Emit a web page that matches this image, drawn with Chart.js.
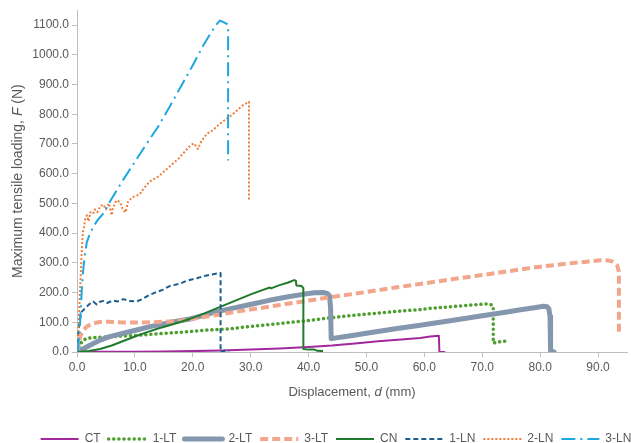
<!DOCTYPE html>
<html>
<head>
<meta charset="utf-8">
<script src="https://cdn.jsdelivr.net/npm/chart.js@4/dist/chart.umd.min.js"></script>
<style>
    html, body { margin: 0; padding: 0; background: #fff; overflow: hidden; }
    #wrap { width: 672px; height: 455px; }
</style>
</head>
<body>
<div id="wrap"><canvas id="chart" width="672" height="455"></canvas></div>
<script>
// Series (displacement in mm, load in N)
const ctX = [0, 5, 10, 15, 20, 25, 30, 35, 40, 44, 48, 52, 56, 59.3, 61, 62.5, 62.6, 63.6];
const ctY = [0, 0.5, 1, 2, 3, 5, 8, 12, 17, 22, 29, 36, 42, 47, 52, 55, 0, 0];

const lt1X = [0, 0.3, 0.6, 1.0, 1.6, 2.5, 4.5, 7, 10.3, 13, 16, 19, 21.8, 26.4, 29.9, 35, 40, 43.7, 48, 52, 56, 59.3, 61, 65, 68, 70.8, 71.7, 71.9, 71.9, 72.5, 74.6];
const lt1Y = [0, 15, 28, 38, 45, 48, 50, 53, 56, 60, 64, 68, 73, 78, 86, 96, 106, 115, 124, 131, 138, 143, 147, 153, 158, 162, 158, 150, 30, 33, 38];

const lt2X = [0, 1, 2.5, 4, 5.5, 8, 10.3, 13, 16, 19.5, 22, 24, 26.4, 29.9, 33, 36, 39, 41, 42.5, 43.2, 43.6, 43.8, 43.9, 47, 50, 55, 59.3, 61, 65, 70, 74, 76.6, 79, 80.6, 81.2, 81.5, 81.7, 81.8, 82.4];
const lt2Y = [0, 10, 25, 40, 51, 63, 74, 87, 99, 111, 124, 135, 145, 160, 173, 184, 194, 199, 200, 197, 190, 150, 45, 54, 63, 78, 90, 95, 107, 122, 134, 142, 149, 154, 152, 145, 120, 5, 0];

const lt3X = [0, 0.3, 0.6, 1, 1.6, 2.5, 3.9, 5.5, 7.4, 10, 13, 16, 18.5, 21, 24, 26.4, 30, 35, 40, 43.7, 50, 55, 61, 66, 70, 76.6, 80, 85, 88, 90.4, 91.8, 92.6, 93.3, 93.6, 93.6];
const lt3Y = [0, 30, 55, 70, 84, 95, 101, 102, 100, 99, 100, 103, 107, 115, 124, 132, 143, 158, 173, 184, 202, 217, 234, 248, 259, 278, 287, 298, 304, 309, 308, 304, 292, 270, 56];

const cnX = [0, 2, 4, 6, 8, 10, 12, 14, 16, 18, 20, 22, 24, 26, 28, 30, 32, 33.3, 33.5, 35, 36.5, 37.5, 37.8, 37.9, 38.8, 39.1, 39.1, 40, 41, 41.5, 42.5];
const cnY = [0, 3, 10, 22, 37, 52, 66, 79, 90, 102, 115, 130, 146, 162, 178, 194, 208, 217, 214, 225, 234, 242, 240, 224, 222, 215, 10, 8, 8, 4, 3];

const ln1X = [0, 0.2, 0.5, 0.8, 1.3, 1.8, 2.2, 2.8, 3.4, 3.9, 4.5, 5.2, 6.2, 7.0, 8.0, 9.0, 10.3, 11.3, 12.3, 13.5, 14.9, 16, 17.8, 19, 20.7, 22, 23, 24.8, 24.8, 25.5, 26.3];
const ln1Y = [0, 60, 110, 135, 145, 155, 162, 170, 160, 168, 172, 165, 173, 170, 178, 172, 170, 178, 190, 200, 210, 222, 230, 240, 248, 256, 260, 266, 0, 4, 4];

const ln2X = [0, 0.2, 0.5, 0.8, 1.0, 1.2, 1.4, 1.7, 2.0, 2.3, 2.8, 3.1, 3.5, 4.0, 4.5, 5.0, 5.5, 6.0, 6.2, 6.8, 7.4, 7.9, 8.4, 8.8, 9.5, 10.8, 11.5, 12.6, 14, 16, 17.5, 18.9, 19.6, 20.2, 20.9, 21.5, 22.5, 23.5, 24.5, 25.5, 26.4, 27.5, 28.5, 29.7, 29.7];
const ln2Y = [0, 60, 195, 330, 400, 420, 445, 460, 440, 470, 465, 480, 470, 490, 496, 480, 500, 460, 485, 510, 505, 480, 470, 505, 520, 530, 550, 574, 590, 624, 650, 680, 695, 702, 683, 710, 735, 747, 765, 780, 792, 810, 828, 842, 510];

const ln3X = [0, 0.2, 0.4, 0.6, 0.8, 1.0, 1.3, 1.7, 2.2, 2.9, 3.6, 4.5, 5.2, 5.8, 6.5, 8, 10, 12, 14, 16, 18, 20, 21.8, 23, 24, 24.7, 25.3, 25.8, 26.1, 26.1];
const ln3Y = [0, 15, 60, 120, 200, 260, 320, 370, 396, 424, 445, 465, 490, 510, 532, 580, 640, 700, 758, 825, 895, 965, 1031, 1070, 1100, 1115, 1110, 1105, 1100, 644];

const seriesNames = ['CT', '1-LT', '2-LT', '3-LT', 'CN', '1-LN', '2-LN', '3-LN'];
const yTicks = [0, 100, 200, 300, 400, 500, 600, 700, 800, 900, 1000, 1100];
const xTicks = [0, 10, 20, 30, 40, 50, 60, 70, 80, 90];

const xTitleParts = [['Displacement, ', false], ['d', true], [' (mm)', false]];
const yTitleParts = [['Maximum tensile loading, ', false], ['F', true], [' (N)', false]];

const textColor = '#595959';
const axisColor = '#BFBFBF';
const fontFamily = '"Liberation Sans", Arial, sans-serif';

function toPoints(xs, ys) {
    return xs.map((x, i) => ({ x: x, y: ys[i] }));
}

const styles = [
    { color: '#A2299B', width: 2, dash: [] },
    { color: '#4E9F2F', width: 3.5, dash: [0.1, 5], cap: 'round' },
    { color: '#8497AE', width: 5, dash: [], cap: 'round' },
    { color: '#F2A68C', width: 4, dash: [8, 4] },
    { color: '#1F7A2B', width: 2, dash: [] },
    { color: '#1D5E8C', width: 2, dash: [5, 3] },
    { color: '#EF7D3C', width: 2, dash: [2, 2] },
    { color: '#1EA7DF', width: 2, dash: [14, 5, 2, 5] }
];

const allX = [ctX, lt1X, lt2X, lt3X, cnX, ln1X, ln2X, ln3X];
const allY = [ctY, lt1Y, lt2Y, lt3Y, cnY, ln1Y, ln2Y, ln3Y];

const datasets = seriesNames.map((name, i) => ({
    label: name,
    data: toPoints(allX[i], allY[i]),
    showLine: true,
    borderColor: styles[i].color,
    backgroundColor: styles[i].color,
    borderWidth: styles[i].width,
    borderDash: styles[i].dash,
    borderCapStyle: styles[i].cap || 'butt',
    borderJoinStyle: 'round',
    pointRadius: 0,
    pointHoverRadius: 0,
    tension: 0,
    // later series sit on top, like the original
    order: seriesNames.length - i
}));

// axis titles with italic symbols
function drawTitle(ctx, parts, x, y, rotate, size) {
    ctx.save();
    ctx.translate(x, y);
    if (rotate) ctx.rotate(-Math.PI / 2);
    ctx.textBaseline = 'middle';
    ctx.textAlign = 'left';
    ctx.fillStyle = textColor;
    const fonts = parts.map(p => (p[1] ? 'italic ' : '') + size + 'px ' + fontFamily);
    const widths = parts.map((p, i) => { ctx.font = fonts[i]; return ctx.measureText(p[0]).width; });
    let cx = -widths.reduce((a, b) => a + b, 0) / 2;
    parts.forEach((p, i) => {
        ctx.font = fonts[i];
        ctx.fillText(p[0], cx, 0);
        cx += widths[i];
    });
    ctx.restore();
}

const axisTitles = {
    id: 'axisTitles',
    afterDraw(chart) {
        const ctx = chart.ctx;
        const area = chart.chartArea;
        drawTitle(ctx, xTitleParts, (area.left + area.right) / 2, 392, false, 13);
        drawTitle(ctx, yTitleParts, 18, (area.top + area.bottom) / 2, true, 14);
    }
};

Chart.defaults.font.family = fontFamily;
Chart.defaults.font.size = 12;
Chart.defaults.color = textColor;

new Chart(document.getElementById('chart'), {
    type: 'scatter',
    data: { datasets: datasets },
    options: {
        responsive: false,
        animation: false,
        devicePixelRatio: 1,
        layout: { padding: { top: 8, left: 0, right: 0, bottom: 0 } },
        plugins: {
            tooltip: { enabled: false },
            legend: {
                position: 'bottom',
                labels: {
                    usePointStyle: true,
                    pointStyle: 'line',
                    pointStyleWidth: 38,
                    padding: 8,
                    color: textColor,
                    font: { size: 12 },
                    // legend keys carry the dash pattern of each line
                    generateLabels: chart => chart.data.datasets.map((ds, i) => ({
                        text: ds.label,
                        datasetIndex: i,
                        hidden: false,
                        fontColor: textColor,
                        strokeStyle: ds.borderColor,
                        fillStyle: ds.borderColor,
                        lineWidth: ds.borderWidth,
                        lineDash: ds.borderDash,
                        lineCap: ds.borderCapStyle,
                        pointStyle: 'line'
                    }))
                }
            }
        },
        scales: {
            x: {
                type: 'linear',
                min: 0,
                max: 95,
                afterBuildTicks: s => { s.ticks = xTicks.map(v => ({ value: v })); },
                afterFit: s => { s.height = 73; },
                ticks: { callback: v => v.toFixed(1), maxRotation: 0, autoSkip: false, padding: 3 },
                grid: { drawOnChartArea: false, drawTicks: true, tickLength: 5, color: axisColor },
                border: { color: axisColor }
            },
            y: {
                type: 'linear',
                min: 0,
                max: 1150,
                afterBuildTicks: s => { s.ticks = yTicks.map(v => ({ value: v })); },
                afterFit: s => { s.width = 77; },
                ticks: { callback: v => v.toFixed(1), padding: 3 },
                grid: { drawOnChartArea: false, drawTicks: true, tickLength: 5, color: axisColor },
                border: { color: axisColor }
            },
            // empty right-hand gutter so the plot stops short of the cropped edge
            gutter: {
                position: 'right',
                display: true,
                ticks: { display: false },
                grid: { display: false, drawTicks: false },
                border: { display: false },
                afterFit: s => { s.width = 45; }
            }
        }
    },
    plugins: [axisTitles]
});
</script>
</body>
</html>
